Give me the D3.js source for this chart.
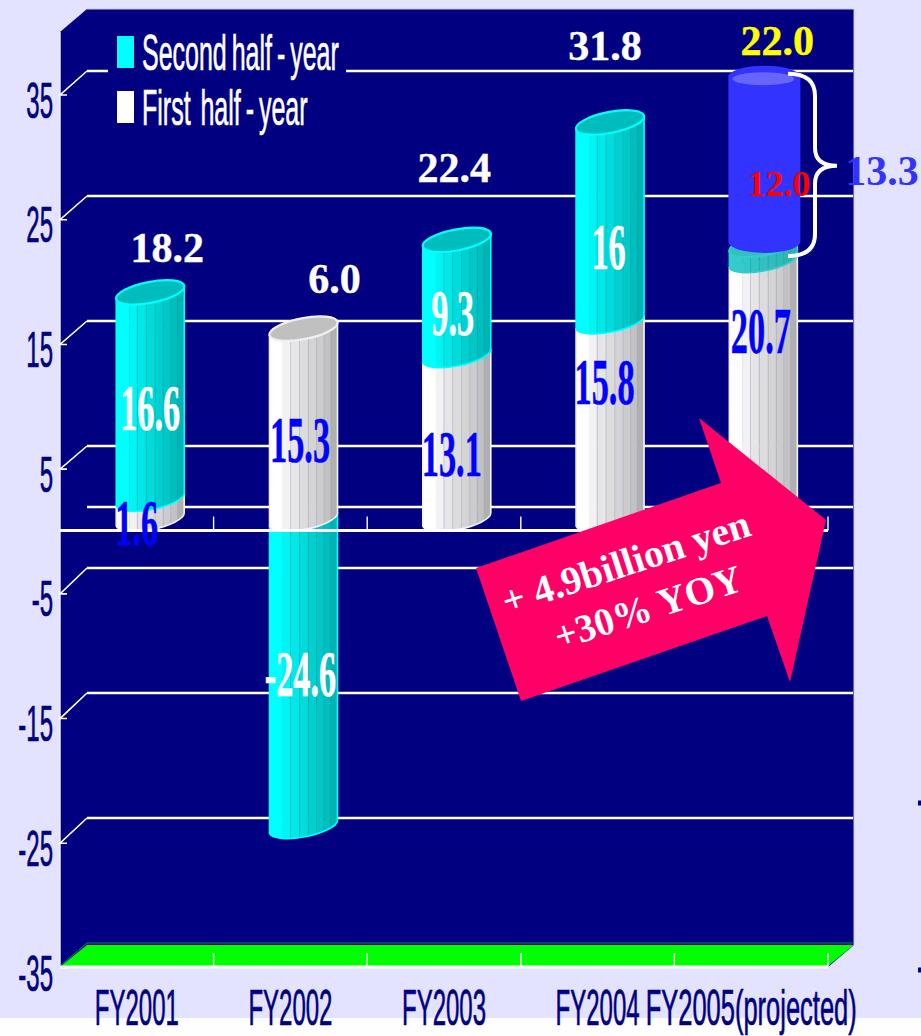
<!DOCTYPE html>
<html>
<head>
<meta charset="utf-8">
<script src="https://cdn.jsdelivr.net/npm/d3@7"></script>
<style>
  html, body { margin: 0; padding: 0; background: #fefefe; }
  svg { display: block; }
  text { white-space: pre; }
</style>
</head>
<body>
<div id="chart"></div>
<script>
// Half-yearly results by fiscal year
const categories = ["FY2001", "FY2002", "FY2003", "FY2004", "FY2005(projected)"];
const firstHalf = [1.6, 15.3, 13.1, 15.8, 20.7];
const secondHalf = [16.6, -24.6, 9.3, 16, 1.3];
const totalLabels = ["18.2", "6.0", "22.4", "31.8", "22.0"];
const yTickValues = [35, 25, 15, 5, -5, -15, -25, -35];
const legendLabels = ["Second half - year", "First  half - year"];
const projectedBase = 22.0;
const projectedGain = 13.3;
const projectedLabel = "12.0";
const calloutLines = ["+ 4.9billion yen", "+30% YOY"];

// Layout: text offsets from the middle of each segment
const firstNudge = [[-13.5, 35], [-3.5, 38], [-5, 38], [-5.5, -17], [-2.5, -37]];
const secondNudge = [[0, 34], [-3, 22.5], [-4, 37], [-1.5, 47], null];
const totalNudge = [[17, -30], [31, -36], [-2.5, -58], [-5, -62], [14, -190]];

const W = 921, H = 1036;
const NAVY = "#000080", BG = "#E3E3FF";
const CYAN_BANDS = ["#00FFFF", "#00F4F4", "#00E8E8", "#00DCDC", "#00D0D0", "#00C8C8", "#00BEBE", "#00B4B4"];
const GRAY_BANDS = ["#FFFFFF", "#F2F2F2", "#E6E6E6", "#DCDCDC", "#D4D4D4", "#CCCCCC", "#C2C2C2", "#B0B0B0"];
const TEAL_BANDS = ["#33CCCC", "#33C8C8", "#33C4C4", "#33C0C0", "#33BCBC", "#33B8B8", "#33B4B4", "#33B0B0"];
const BAND_STOPS = [0, 0.19, 0.31, 0.44, 0.57, 0.69, 0.80, 0.90, 1];
const HALF_W = 34, TILT_DY = 6.5, CAP_A = 34.7, CAP_B = 10.5, TILT = -11;

const svg = d3.select("#chart").append("svg").attr("width", W).attr("height", H);
const defs = svg.append("defs");
svg.append("rect").attr("width", W).attr("height", 1018).attr("fill", BG);
// Cut-off minus signs at the right margin
svg.selectAll("rect.margin-mark").data([800.5, 967.5]).join("rect").attr("class", "margin-mark")
  .attr("x", 918).attr("y", d => d).attr("width", 3).attr("height", 5).attr("fill", NAVY);

// Three depth planes share one value range: front edge, bar centres, back wall
const yFront = d3.scaleLinear().domain([-35, 35]).range([968, 95]);
const yBar = d3.scaleLinear().domain([-35, 35]).range([957, 82.5]);
const yBack = d3.scaleLinear().domain([-35, -5, 5, 35]).range([943, 568, 446, 71]);
const xFront = d3.scaleBand().domain(categories).range([60, 828]);
const xBar = d3.scaleBand().domain(categories).range([73.6, 840]).paddingInner(0.556).paddingOuter(0.278);
const barCx = c => xBar(c) + xBar.bandwidth() / 2;

// Wall and floor
svg.append("path").attr("fill", NAVY)
  .attr("d", "M60,32 L87,9 L854,9 L854,945 L828,967 L60,967 Z");
svg.append("path").attr("fill", "none").attr("stroke", "#f4f4ff").attr("stroke-width", 1.4)
  .attr("d", "M60,32 L60,967");
svg.append("path").attr("fill", "none").attr("stroke", "#c8c8ee").attr("stroke-width", 1)
  .attr("d", "M87,9 L854,9 L854,945");
svg.append("path").attr("fill", "#00FF00")
  .attr("d", "M61,966 L87,945 L854,945 L828,966 Z");
svg.append("line").attr("x1", 87).attr("x2", 854).attr("y1", yBack(-35)).attr("y2", yBack(-35))
  .attr("stroke", "#1d7a62").attr("stroke-width", 1);
svg.append("line").attr("x1", 60).attr("x2", 87).attr("y1", 966).attr("y2", yBack(-35))
  .attr("stroke", "#1d7a62").attr("stroke-width", 1);

// Gridlines along the back wall and their diagonals to the front axis
const grid = svg.append("g").attr("stroke", "#fff").attr("fill", "none");
grid.selectAll("line.back").data(yTickValues.filter(v => v > -35).concat([0])).join("line")
  .attr("class", "back").attr("x1", 87).attr("x2", 853)
  .attr("y1", d => yBack(d)).attr("y2", d => yBack(d)).attr("stroke-width", 2.4);
grid.selectAll("path.side").data(yTickValues.filter(v => v > -35)).join("path")
  .attr("class", "side").attr("stroke-width", 1.6)
  .attr("d", d => `M87,${yBack(d)} L60,${yFront(d)} L67,${yFront(d)}`);

// A tilted ellipse gives the lower edge and the cap of each cylinder
function segmentPath(cx, yTop, yBottom) {
  return `M${cx - HALF_W},${yTop + TILT_DY} L${cx + HALF_W},${yTop - TILT_DY}` +
    ` L${cx + HALF_W},${yBottom - TILT_DY}` +
    ` A${CAP_A},${CAP_B} ${TILT} 0 1 ${cx - HALF_W},${yBottom + TILT_DY} Z`;
}
function drawSegment(root, id, cx, from, to, palette, edge, seam) {
  const d = segmentPath(cx, yBar(Math.max(from, to)), yBar(Math.min(from, to)));
  defs.append("clipPath").attr("id", id).append("path").attr("d", d);
  const g = root.append("g");
  const inner = g.append("g").attr("clip-path", `url(#${id})`);
  inner.selectAll("rect").data(palette).join("rect")
    .attr("x", (c, i) => cx - HALF_W + BAND_STOPS[i] * 2 * HALF_W)
    .attr("width", (c, i) => (BAND_STOPS[i + 1] - BAND_STOPS[i]) * 2 * HALF_W + 0.5)
    .attr("y", 0).attr("height", H).attr("fill", c => c);
  inner.selectAll("line").data(BAND_STOPS.slice(2, 8)).join("line")
    .attr("x1", s => cx - HALF_W + s * 2 * HALF_W).attr("x2", s => cx - HALF_W + s * 2 * HALF_W)
    .attr("y1", 0).attr("y2", H).attr("stroke", seam).attr("stroke-width", 0.8).attr("opacity", 0.7);
  g.append("path").attr("d", d).attr("fill", "none").attr("stroke", edge).attr("stroke-width", 1.6);
}
function drawCap(root, cx, value, fill, edge) {
  root.append("ellipse").attr("cx", 0).attr("cy", 0).attr("rx", CAP_A).attr("ry", CAP_B)
    .attr("transform", `translate(${cx},${yBar(value)}) rotate(${TILT})`)
    .attr("fill", fill).attr("stroke", edge).attr("stroke-width", 2.2);
}

// Bars: negative parts first so the grey segment overlaps them, then stack upward
const bars = svg.append("g");
categories.forEach((c, i) => {
  const cx = barCx(c), a = firstHalf[i], b = secondHalf[i];
  if (b < 0) drawSegment(bars, `seg-neg-${i}`, cx, 0, b, CYAN_BANDS, "#00FFFF", "#009fa8");
  drawSegment(bars, `seg-a-${i}`, cx, 0, a, GRAY_BANDS, "#F2F2FF", "#a8a8cc");
  if (b < 0) { drawCap(bars, cx, a, "#C0C0C0", "#F0F0F0"); return; }
  const projected = i === categories.length - 1;
  drawSegment(bars, `seg-b-${i}`, cx, a, a + b, projected ? TEAL_BANDS : CYAN_BANDS,
    projected ? "#33CCCC" : "#00FFFF", "#00a8b0");
  drawCap(bars, cx, a + b, projected ? "#33BFBF" : "#00BDBD", projected ? "#33CCCC" : "#00FFFF");
});

// Front zero line with category ticks
const zeroY = yFront(0) - 1;
const axisLines = svg.append("g").attr("stroke", "#fff");
axisLines.append("line").attr("x1", 60).attr("x2", 828).attr("y1", zeroY).attr("y2", zeroY).attr("stroke-width", 3);
axisLines.selectAll("line.tick").data(categories).join("line").attr("class", "tick")
  .attr("x1", c => xFront(c) + xFront.step()).attr("x2", c => xFront(c) + xFront.step())
  .attr("y1", zeroY - 14).attr("y2", zeroY).attr("stroke-width", 1.4);
axisLines.append("line").attr("x1", 60).attr("x2", 828).attr("y1", 967).attr("y2", 967).attr("stroke-width", 3);
axisLines.selectAll("line.floor").data(categories).join("line").attr("class", "floor")
  .attr("x1", c => xFront(c) + xFront.step()).attr("x2", c => xFront(c) + xFront.step())
  .attr("y1", 953).attr("y2", 967).attr("stroke-width", 1.4);
grid.append("line").attr("x1", 60).attr("x2", 67).attr("y1", yFront(-35)).attr("y2", yFront(-35)).attr("stroke-width", 1.6);

// Value axis
const sans = "'Liberation Sans', Arial, sans-serif";
const yAxisG = svg.append("g").attr("transform", "translate(53,0)")
  .call(d3.axisLeft(yFront).tickValues(yTickValues).tickSize(0).tickPadding(0).tickFormat(d => String(d)));
yAxisG.select(".domain").remove();
yAxisG.selectAll(".tick text")
  .attr("font-family", sans).attr("font-size", 50)
  .attr("fill", NAVY).attr("stroke", NAVY).attr("stroke-width", 0.7)
  .attr("text-anchor", "end").attr("x", 0).attr("dy", 0).attr("y", 0)
  .attr("transform", "translate(0,22) scale(0.48,1)");

// Category axis, kept inside the bottom edge of the page
const xAxisG = svg.append("g").attr("transform", "translate(0,1025)")
  .call(d3.axisBottom(xFront).tickSize(0).tickPadding(0));
xAxisG.select(".domain").remove();
xAxisG.selectAll(".tick text")
  .attr("font-family", sans).attr("font-size", 50)
  .attr("fill", NAVY).attr("stroke", NAVY).attr("stroke-width", 0.7)
  .attr("text-anchor", "middle").attr("y", 0).attr("dy", 0)
  .attr("transform", (d, i) => `scale(${i === categories.length - 1 ? 0.51 : 0.48},1)`);

// Legend sits on a navy patch that interrupts the top gridline
svg.append("rect").attr("x", 108).attr("y", 30).attr("width", 238).attr("height", 110).attr("fill", NAVY);
const legend = svg.append("g");
[["#00FFFF", 36], ["#FFFFFF", 91]].forEach((s, i) => {
  legend.append("rect").attr("x", 117).attr("y", s[1]).attr("width", 17).attr("height", 32).attr("fill", s[0]);
  legend.append("text").text(legendLabels[i])
    .attr("transform", `translate(142,${s[1] + 33.5}) scale(0.5,1)`)
    .attr("font-family", sans).attr("font-size", 50).attr("fill", "#fff")
    .attr("stroke", "#fff").attr("stroke-width", 0.7).attr("word-spacing", -4);
});

// Projected increment: a blue cylinder standing on the stack
const blueCx = barCx(categories[4]) + 1;
const blueTop = yBar(projectedBase + projectedGain) - 2;
const blueBottom = yBar(projectedBase) - 3;
const overlay = svg.append("g");
overlay.append("path").attr("fill", "#3333FF")
  .attr("d", `M${blueCx - 36},${blueTop} A36,11 0 0 1 ${blueCx + 36},${blueTop} L${blueCx + 36},${blueBottom} A36,11 0 0 1 ${blueCx - 36},${blueBottom} Z`);
overlay.append("ellipse").attr("cx", blueCx - 1).attr("cy", blueTop + 2).attr("rx", 31).attr("ry", 6.5).attr("fill", "#6666FF");

// Brace spanning the increment
const bt = blueTop - 3, bb = blueBottom + 14, bm = (bt + bb) / 2 + 1;
overlay.append("path").attr("fill", "none").attr("stroke", "#fff").attr("stroke-width", 4)
  .attr("d", `M788,${bt} Q815,${bt} 815,${bt + 22} L815,${bm - 18} Q815,${bm} 837,${bm} Q815,${bm} 815,${bm + 18} L815,${bb - 22} Q815,${bb} 788,${bb}`);

// Arrow callout
const callout = svg.append("g");
callout.append("polygon").attr("fill", "#FF0066")
  .attr("points", "476,568 721,483 699,418 826,520 790,682 767,616 521,701");
[[630, 575, 39.5], [652, 620, 39]].forEach((p, i) => {
  callout.append("text").text(calloutLines[i])
    .attr("transform", `translate(${p[0]},${p[1]}) rotate(-18)`)
    .attr("text-anchor", "middle").attr("font-family", "'Liberation Serif', 'Times New Roman', serif")
    .attr("font-weight", "bold").attr("font-size", p[2]).attr("fill", "#fff");
});

// Values inside the bars use tall, narrow serif numerals
const serif = "'Liberation Serif', 'Times New Roman', serif";
const labels = svg.append("g").attr("font-family", serif).attr("font-weight", "bold").attr("text-anchor", "middle");
function tallLabel(text, x, y, fill) {
  labels.append("text").text(text).attr("fill", fill).attr("font-size", 66)
    .attr("stroke", fill).attr("stroke-width", 0.6)
    .attr("transform", `translate(${x},${y}) scale(0.52,1)`);
}
categories.forEach((c, i) => {
  const cx = barCx(c), a = firstHalf[i], b = secondHalf[i];
  tallLabel(String(a), cx + firstNudge[i][0], yBar(a / 2) + firstNudge[i][1], "#0000FF");
  if (secondNudge[i]) {
    const mid = b < 0 ? b / 2 : a + b / 2;
    tallLabel(String(b), cx + secondNudge[i][0], yBar(mid) + secondNudge[i][1], "#fff");
  }
  const top = b < 0 ? a : a + b;
  labels.append("text").text(totalLabels[i])
    .attr("x", cx + totalNudge[i][0]).attr("y", yBar(top) + totalNudge[i][1])
    .attr("font-size", 42).attr("stroke-width", 0.4).attr("stroke", i === 4 ? "#FFFF00" : "#fff")
    .attr("fill", i === 4 ? "#FFFF00" : "#fff");
});
labels.append("text").text(projectedLabel).attr("x", 779).attr("y", 196).attr("font-size", 36).attr("fill", "#FF0000");
labels.append("text").text(projectedGain.toFixed(1)).attr("x", 882).attr("y", 185).attr("font-size", 42).attr("fill", "#3333FF");
</script>
</body>
</html>
